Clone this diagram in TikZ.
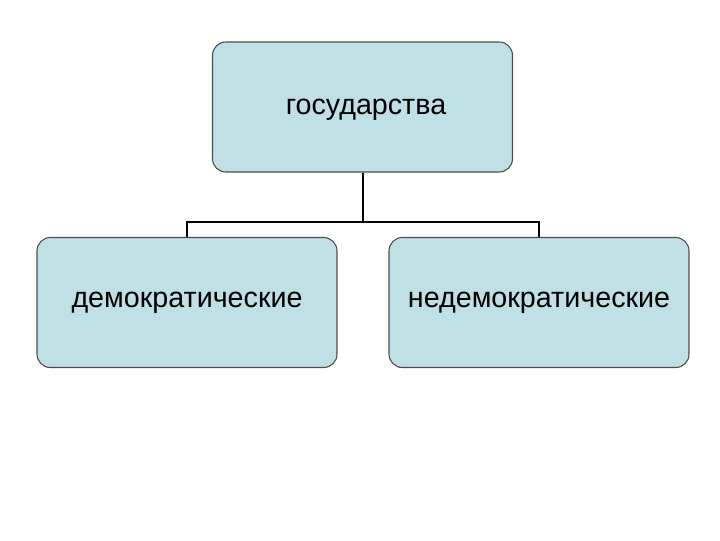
\documentclass[tikz,border=0pt]{standalone}
\usepackage{fontspec}
\setmainfont{Liberation Sans}
\begin{document}
\begin{tikzpicture}[x=0.75pt,y=-0.75pt,
  box/.style={draw=black!70,line width=0.8pt,fill={rgb,255:red,191;green,225;blue,229},rounded corners=10pt,minimum width=225pt,minimum height=97.5pt,inner sep=0pt,font=\fontsize{21.5}{25}\selectfont},
  conn/.style={draw=black,line width=1.5pt}]
\useasboundingbox (0,0) rectangle (720,540);
\node[box] (top) at (362.5,107) {};
\node[font=\fontsize{21.5}{25}\selectfont] (tl) at (366,110) {государства};
\node[box] (l) at (187,302.5) {демократические};
\node[box] (r) at (539,302.5) {недемократические};
\coordinate (j) at (362.5,222);
\draw[conn] (top.south) -- (j);
\draw[conn] (l.north) |- (j) -| (r.north);
\end{tikzpicture}
\end{document}
